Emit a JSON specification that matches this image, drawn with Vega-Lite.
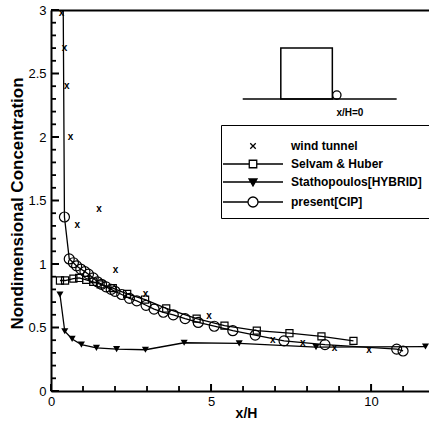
{
  "$schema": "https://vega.github.io/schema/vega-lite/v6.json",
  "width": 378,
  "height": 381,
  "autosize": "none",
  "padding": {"left": 51, "top": 10, "right": 0, "bottom": 32},
  "datasets": {
    "series": [
      {"series": "wind tunnel", "x": 0.33, "y": 2.98},
      {"series": "wind tunnel", "x": 0.42, "y": 2.70},
      {"series": "wind tunnel", "x": 0.49, "y": 2.40},
      {"series": "wind tunnel", "x": 0.61, "y": 2.00},
      {"series": "wind tunnel", "x": 0.82, "y": 1.31},
      {"series": "wind tunnel", "x": 1.50, "y": 1.43},
      {"series": "wind tunnel", "x": 2.02, "y": 0.95},
      {"series": "wind tunnel", "x": 2.95, "y": 0.76},
      {"series": "wind tunnel", "x": 4.94, "y": 0.59},
      {"series": "wind tunnel", "x": 6.93, "y": 0.405},
      {"series": "wind tunnel", "x": 7.87, "y": 0.38},
      {"series": "wind tunnel", "x": 8.86, "y": 0.34},
      {"series": "wind tunnel", "x": 9.94, "y": 0.32},
      {"series": "Selvam & Huber", "x": 0.28, "y": 0.87},
      {"series": "Selvam & Huber", "x": 0.44, "y": 0.87},
      {"series": "Selvam & Huber", "x": 0.70, "y": 0.885},
      {"series": "Selvam & Huber", "x": 0.88, "y": 0.89},
      {"series": "Selvam & Huber", "x": 1.10, "y": 0.875},
      {"series": "Selvam & Huber", "x": 1.32, "y": 0.86},
      {"series": "Selvam & Huber", "x": 1.55, "y": 0.84},
      {"series": "Selvam & Huber", "x": 1.93, "y": 0.81},
      {"series": "Selvam & Huber", "x": 2.38, "y": 0.765},
      {"series": "Selvam & Huber", "x": 2.94, "y": 0.72},
      {"series": "Selvam & Huber", "x": 3.60, "y": 0.65},
      {"series": "Selvam & Huber", "x": 4.55, "y": 0.57},
      {"series": "Selvam & Huber", "x": 5.42, "y": 0.515},
      {"series": "Selvam & Huber", "x": 6.43, "y": 0.475},
      {"series": "Selvam & Huber", "x": 7.45, "y": 0.455},
      {"series": "Selvam & Huber", "x": 8.45, "y": 0.43},
      {"series": "Selvam & Huber", "x": 9.45, "y": 0.395},
      {"series": "Stathopoulos[HYBRID]", "x": 0.28, "y": 0.76},
      {"series": "Stathopoulos[HYBRID]", "x": 0.43, "y": 0.47},
      {"series": "Stathopoulos[HYBRID]", "x": 0.66, "y": 0.41},
      {"series": "Stathopoulos[HYBRID]", "x": 0.95, "y": 0.365},
      {"series": "Stathopoulos[HYBRID]", "x": 1.42, "y": 0.34},
      {"series": "Stathopoulos[HYBRID]", "x": 2.05, "y": 0.33},
      {"series": "Stathopoulos[HYBRID]", "x": 2.95, "y": 0.325},
      {"series": "Stathopoulos[HYBRID]", "x": 4.16, "y": 0.38},
      {"series": "Stathopoulos[HYBRID]", "x": 5.88, "y": 0.375},
      {"series": "Stathopoulos[HYBRID]", "x": 8.28, "y": 0.345},
      {"series": "Stathopoulos[HYBRID]", "x": 11.70, "y": 0.35},
      {"series": "present[CIP]", "x": 0.38, "y": 3.1},
      {"series": "present[CIP]", "x": 0.42, "y": 1.37},
      {"series": "present[CIP]", "x": 0.57, "y": 1.04},
      {"series": "present[CIP]", "x": 0.70, "y": 1.01},
      {"series": "present[CIP]", "x": 0.80, "y": 0.985},
      {"series": "present[CIP]", "x": 0.93, "y": 0.96},
      {"series": "present[CIP]", "x": 1.06, "y": 0.94},
      {"series": "present[CIP]", "x": 1.17, "y": 0.92},
      {"series": "present[CIP]", "x": 1.32, "y": 0.89},
      {"series": "present[CIP]", "x": 1.45, "y": 0.86},
      {"series": "present[CIP]", "x": 1.58, "y": 0.84},
      {"series": "present[CIP]", "x": 1.72, "y": 0.82},
      {"series": "present[CIP]", "x": 1.88, "y": 0.80},
      {"series": "present[CIP]", "x": 2.00, "y": 0.785},
      {"series": "present[CIP]", "x": 2.21, "y": 0.76},
      {"series": "present[CIP]", "x": 2.45, "y": 0.73},
      {"series": "present[CIP]", "x": 2.68, "y": 0.71},
      {"series": "present[CIP]", "x": 2.97, "y": 0.675},
      {"series": "present[CIP]", "x": 3.22, "y": 0.645},
      {"series": "present[CIP]", "x": 3.51, "y": 0.62},
      {"series": "present[CIP]", "x": 3.82, "y": 0.60},
      {"series": "present[CIP]", "x": 4.19, "y": 0.57},
      {"series": "present[CIP]", "x": 4.60, "y": 0.54},
      {"series": "present[CIP]", "x": 5.10, "y": 0.51},
      {"series": "present[CIP]", "x": 5.68, "y": 0.475},
      {"series": "present[CIP]", "x": 6.38, "y": 0.44},
      {"series": "present[CIP]", "x": 7.28, "y": 0.395},
      {"series": "present[CIP]", "x": 8.56, "y": 0.365},
      {"series": "present[CIP]", "x": 10.80, "y": 0.33},
      {"series": "present[CIP]", "x": 11.00, "y": 0.315}
    ],
    "ytick_major": [{"y": 0}, {"y": 0.5}, {"y": 1}, {"y": 1.5}, {"y": 2}, {"y": 2.5}, {"y": 3}],
    "ytick_minor": [{"y": 0.1}, {"y": 0.2}, {"y": 0.3}, {"y": 0.4}, {"y": 0.6}, {"y": 0.7}, {"y": 0.8}, {"y": 0.9},
      {"y": 1.1}, {"y": 1.2}, {"y": 1.3}, {"y": 1.4}, {"y": 1.6}, {"y": 1.7}, {"y": 1.8}, {"y": 1.9},
      {"y": 2.1}, {"y": 2.2}, {"y": 2.3}, {"y": 2.4}, {"y": 2.6}, {"y": 2.7}, {"y": 2.8}, {"y": 2.9}],
    "xtick_major": [{"x": 0}, {"x": 5}, {"x": 10}],
    "xtick_minor": [{"x": 1}, {"x": 2}, {"x": 3}, {"x": 4}, {"x": 6}, {"x": 7}, {"x": 8}, {"x": 9}, {"x": 11}],
    "inset_box": [{"x": 7.18, "x2": 8.79, "y": 2.30, "y2": 2.70}],
    "inset_ground": [{"x": 5.99, "x2": 10.80, "y": 2.30}],
    "inset_point": [{"x": 8.93, "y": 2.33}],
    "inset_label": [{"x": 9.34, "y": 2.19, "label": "x/H=0"}]
  },
  "encoding": {
    "y": {
      "field": "y", "type": "quantitative",
      "scale": {"domain": [0, 3], "nice": false, "zero": false},
      "axis": {
        "title": "Nondimensional Concentration",
        "values": [0, 0.5, 1, 1.5, 2, 2.5, 3],
        "format": ".1~f",
        "ticks": false,
        "grid": false, "labelFlush": false, "labelOverlap": false,
        "domainColor": "black", "domainWidth": 2,
        "labelPadding": 5, "labelFontSize": 13, "labelColor": "black", "labelFont": "Liberation Sans",
        "titleFont": "Liberation Sans", "titleFontWeight": "bold", "titleFontSize": 17, "titleColor": "black",
        "titleX": -34, "titleY": 193, "titleBaseline": "middle", "titleAlign": "center", "titleAngle": -90
      }
    }
  },
  "layer": [
    {
      "data": {"name": "series"},
      "transform": [{"filter": "datum.series !== 'wind tunnel'"}],
      "mark": {"type": "line", "color": "black", "strokeWidth": 1.3, "clip": true},
      "encoding": {
        "x": {
          "field": "x", "type": "quantitative",
          "scale": {"domain": [0, 11.81], "nice": false, "zero": false},
          "axis": {
            "title": "x/H", "values": [0, 5, 10], "format": "d",
            "ticks": false,
            "grid": false, "labelFlush": false, "labelOverlap": false,
            "domainColor": "black", "domainWidth": 2,
            "labelPadding": 4, "labelFontSize": 13, "labelColor": "black", "labelFont": "Liberation Sans",
            "titleFont": "Liberation Sans", "titleFontWeight": "bold", "titleFontSize": 14, "titleColor": "black",
            "titleX": 195, "titleY": 22, "titleBaseline": "middle", "titleAlign": "center"
          }
        },
        "detail": {"field": "series", "type": "nominal"}
      }
    },
    {
      "data": {"name": "ytick_major"},
      "mark": {"type": "tick", "orient": "horizontal", "size": 8, "thickness": 2, "xOffset": 4, "color": "black", "opacity": 1},
      "encoding": {
        "x": {"datum": 0, "type": "quantitative", "scale": {"domain": [0, 11.81], "nice": false, "zero": false}, "axis": null}
      }
    },
    {
      "data": {"name": "ytick_minor"},
      "mark": {"type": "tick", "orient": "horizontal", "size": 5, "thickness": 1.8, "xOffset": 2.5, "color": "black", "opacity": 1},
      "encoding": {
        "x": {"datum": 0, "type": "quantitative", "scale": {"domain": [0, 11.81], "nice": false, "zero": false}, "axis": null}
      }
    },
    {
      "data": {"name": "xtick_major"},
      "mark": {"type": "tick", "orient": "vertical", "size": 7, "thickness": 2, "yOffset": -3.5, "color": "black", "opacity": 1},
      "encoding": {
        "x": {"field": "x", "type": "quantitative", "scale": {"domain": [0, 11.81], "nice": false, "zero": false}, "axis": null},
        "y": {"value": "height"}
      }
    },
    {
      "data": {"name": "xtick_minor"},
      "mark": {"type": "tick", "orient": "vertical", "size": 5, "thickness": 1.8, "yOffset": -2.5, "color": "black", "opacity": 1},
      "encoding": {
        "x": {"field": "x", "type": "quantitative", "scale": {"domain": [0, 11.81], "nice": false, "zero": false}, "axis": null},
        "y": {"value": "height"}
      }
    },
    {
      "data": {"name": "series"},
      "transform": [{"filter": "false"}],
      "mark": {"type": "point", "filled": true, "stroke": "black", "strokeWidth": 1.3, "opacity": 1},
      "encoding": {
        "x": {"field": "x", "type": "quantitative", "scale": {"domain": [0, 11.81], "nice": false, "zero": false}, "axis": null},
        "shape": {
          "field": "series", "type": "nominal",
          "scale": {
            "domain": ["wind tunnel", "Selvam & Huber", "Stathopoulos[HYBRID]", "present[CIP]"],
            "range": [
              "M-0.55,-0.55L0.55,0.55M-0.55,0.55L0.55,-0.55",
              "M-6,0H-0.75M0.75,0H6M-0.75,-0.75H0.75V0.75H-0.75Z",
              "M-6,0H6M-0.8,-0.6H0.8L0,0.8Z",
              "M-6,0H-1M1,0H6M-1,0A1,1 0 1,1 1,0A1,1 0 1,1 -1,0Z"
            ]
          },
          "legend": {"title": " ", "orient": "none", "legendX": 170, "legendY": 115}
        },
        "fill": {
          "field": "series", "type": "nominal",
          "scale": {
            "domain": ["wind tunnel", "Selvam & Huber", "Stathopoulos[HYBRID]", "present[CIP]"],
            "range": ["transparent", "transparent", "black", "transparent"]
          },
          "legend": {"title": " ", "orient": "none", "legendX": 170, "legendY": 115}
        },
        "stroke": {
          "field": "series", "type": "nominal",
          "scale": {
            "domain": ["wind tunnel", "Selvam & Huber", "Stathopoulos[HYBRID]", "present[CIP]"],
            "range": ["black", "black", "black", "black"]
          },
          "legend": {"title": " ", "orient": "none", "legendX": 170, "legendY": 115}
        }
      }
    },
    {
      "data": {"name": "series"},
      "transform": [{"filter": "datum.series === 'Selvam & Huber'"}],
      "mark": {"type": "point", "shape": "square", "filled": false, "color": "black", "strokeWidth": 1.2, "size": 50, "opacity": 1, "clip": true},
      "encoding": {
        "x": {"field": "x", "type": "quantitative", "scale": {"domain": [0, 11.81], "nice": false, "zero": false}, "axis": null}
      }
    },
    {
      "data": {"name": "series"},
      "transform": [{"filter": "datum.series === 'present[CIP]'"}],
      "mark": {"type": "point", "shape": "circle", "filled": false, "color": "black", "strokeWidth": 1.2, "size": 100, "opacity": 1, "clip": true},
      "encoding": {
        "x": {"field": "x", "type": "quantitative", "scale": {"domain": [0, 11.81], "nice": false, "zero": false}, "axis": null}
      }
    },
    {
      "data": {"name": "series"},
      "transform": [{"filter": "datum.series === 'Stathopoulos[HYBRID]'"}],
      "mark": {"type": "point", "shape": "triangle-down", "filled": true, "color": "black", "size": 50, "opacity": 1, "clip": true},
      "encoding": {
        "x": {"field": "x", "type": "quantitative", "scale": {"domain": [0, 11.81], "nice": false, "zero": false}, "axis": null}
      }
    },
    {
      "data": {"name": "series"},
      "transform": [{"filter": "datum.series === 'wind tunnel'"}],
      "mark": {"type": "text", "text": "x", "font": "Liberation Sans", "fontWeight": "bold", "fontSize": 10, "color": "black", "baseline": "middle", "align": "center"},
      "encoding": {
        "x": {"field": "x", "type": "quantitative", "scale": {"domain": [0, 11.81], "nice": false, "zero": false}, "axis": null}
      }
    },
    {
      "data": {"name": "inset_box"},
      "mark": {"type": "rect", "filled": false, "stroke": "black", "strokeWidth": 1.5, "fill": null},
      "encoding": {
        "x": {"field": "x", "type": "quantitative", "scale": {"domain": [0, 11.81], "nice": false, "zero": false},
          "axis": {"orient": "top", "labels": false, "ticks": false, "title": null, "grid": false, "domainColor": "black", "domainWidth": 2}},
        "x2": {"field": "x2"},
        "y2": {"field": "y2"}
      }
    },
    {
      "data": {"name": "inset_ground"},
      "mark": {"type": "rule", "color": "black", "strokeWidth": 1.5},
      "encoding": {
        "x": {"field": "x", "type": "quantitative", "scale": {"domain": [0, 11.81], "nice": false, "zero": false}, "axis": null},
        "x2": {"field": "x2"}
      }
    },
    {
      "data": {"name": "inset_point"},
      "mark": {"type": "point", "shape": "circle", "filled": false, "color": "black", "strokeWidth": 1.3, "size": 70, "opacity": 1},
      "encoding": {
        "x": {"field": "x", "type": "quantitative", "scale": {"domain": [0, 11.81], "nice": false, "zero": false}, "axis": null}
      }
    },
    {
      "data": {"name": "inset_label"},
      "mark": {"type": "text", "font": "Liberation Sans", "fontWeight": "bold", "fontSize": 10, "color": "black", "baseline": "middle", "align": "center"},
      "encoding": {
        "x": {"field": "x", "type": "quantitative", "scale": {"domain": [0, 11.81], "nice": false, "zero": false}, "axis": null},
        "text": {"field": "label"}
      }
    }
  ],
  "resolve": {"axis": {"x": "independent"}},
  "config": {
    "view": {"stroke": null},
    "font": "Liberation Sans",
    "background": "white",
    "legend": {
      "titleFontSize": 4, "titlePadding": 3,
      "padding": 8, "rowPadding": 5, "symbolSize": 100, "symbolOffset": 18, "labelOffset": 32,
      "labelFont": "Liberation Sans", "labelFontWeight": "bold", "labelFontSize": 12, "labelColor": "black",
      "strokeColor": "black", "fillColor": "white", "labelLimit": 0,
      "symbolStrokeColor": "black", "symbolStrokeWidth": 1.3
    }
  }
}
